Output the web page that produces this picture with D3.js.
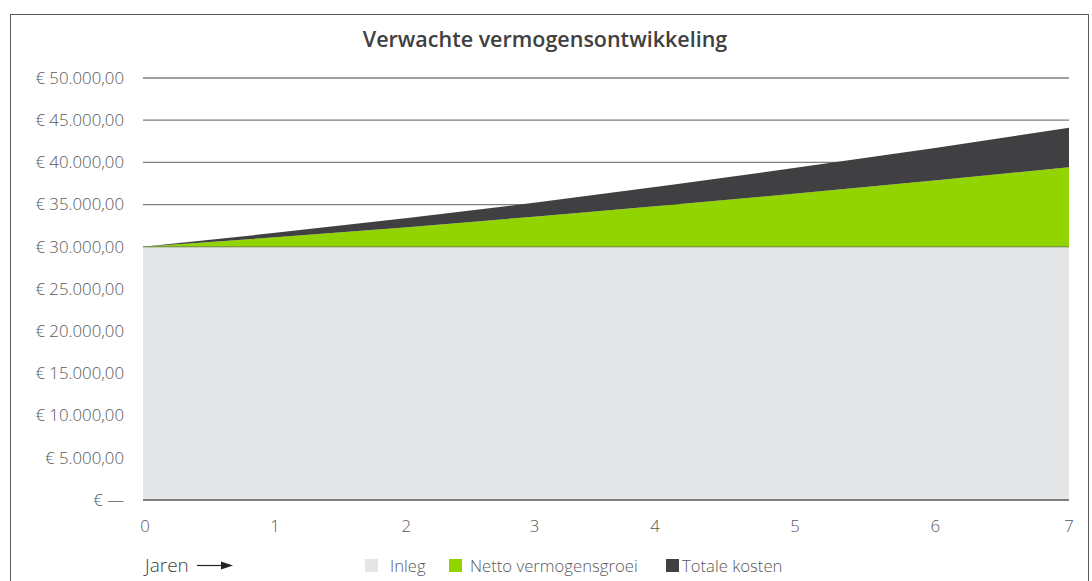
<!DOCTYPE html>
<html><head><meta charset="utf-8">
<script src="https://cdn.jsdelivr.net/npm/d3@7"></script>
<style>
body{margin:0;background:#fff;}
text{font-family:"Open Sans",sans-serif;}
</style></head>
<body><svg id="c" width="1092" height="581"></svg>
<script>
const years = [0, 1, 2, 3, 4, 5, 6, 7];
const inleg = [30000, 30000, 30000, 30000, 30000, 30000, 30000, 30000];
const nettoGroei = [0, 1120, 2330, 3620, 4980, 6400, 7880, 9420];
const totaleKosten = [0, 530, 1070, 1680, 2360, 3100, 3870, 4690];
const seriesNames = ["Inleg", "Netto vermogensgroei", "Totale kosten"];
const seriesColors = ["#e5e6e8", "#92d400", "#404042"];
const yTicks = [0, 5000, 10000, 15000, 20000, 25000, 30000, 35000, 40000, 45000, 50000];
const xTickLabels = ["0", "1", "2", "3", "4", "5", "6", "7"];
const xTickPos = [0.015, 0.998, 1.99, 2.96, 3.87, 4.93, 5.99, 7.0];
const title = "Verwachte vermogensontwikkeling";
const axisTitle = "Jaren";

const svg = d3.select("#c");
const m = {left:143, right:1069, top:78, bottom:500};

svg.append("rect").attr("x",10.5).attr("y",14.5).attr("width",1078).attr("height",600)
  .attr("fill","none").attr("stroke","#595959").attr("stroke-width",1);

svg.append("text").attr("x",545).attr("y",47).attr("text-anchor","middle")
  .attr("font-size",21.5).attr("font-weight",600).attr("fill","#404040").text(title);

const x = d3.scaleLinear().domain([0,7]).range([m.left, m.right]);
const y = d3.scaleLinear().domain([0,50000]).range([m.bottom, m.top]);

svg.append("g").selectAll("line").data(yTicks.filter(d=>d>0)).join("line")
  .attr("x1",m.left).attr("x2",m.right).attr("y1",d=>y(d)).attr("y2",d=>y(d))
  .attr("stroke","#7f7f7f").attr("stroke-width",1.3);

const fmt = v => v === 0 ? "€ —" : "€ " + d3.format(",.2f")(v).replace(/,/g,"#").replace(/\./g,",").replace(/#/g,".");
svg.append("g").selectAll("text").data(yTicks).join("text")
  .attr("x",124).attr("y",d=>y(d)).attr("dy","0.35em").attr("text-anchor","end")
  .attr("font-size",16.8).attr("font-weight",300).attr("fill","#595959").text(fmt);

const table = years.map((yr,i)=>({year:yr, "Inleg":inleg[i], "Netto vermogensgroei":nettoGroei[i], "Totale kosten":totaleKosten[i]}));
const stack = d3.stack().keys(seriesNames)(table);
const area = d3.area().x(d=>x(d.data.year)).y0(d=>y(d[0])).y1(d=>y(d[1]));
svg.append("g").selectAll("path").data(stack).join("path")
  .attr("d",area).attr("fill",(d,i)=>seriesColors[i]);

svg.append("path").datum(stack[0])
  .attr("d", d3.line().x(d=>x(d.data.year)).y(d=>y(d[1])))
  .attr("fill","none").attr("stroke","#6f8a3c").attr("stroke-width",1);

svg.append("line").attr("x1",m.left).attr("x2",m.right).attr("y1",y(0)).attr("y2",y(0))
  .attr("stroke","#595959").attr("stroke-width",1.5);

svg.append("g").selectAll("text").data(xTickLabels).join("text")
  .attr("x",(d,i)=>x(xTickPos[i])).attr("y",532).attr("text-anchor","middle")
  .attr("font-size",16.8).attr("font-weight",300).attr("fill","#595959").text(d=>d);

svg.append("text").attr("x",145).attr("y",572).attr("font-size",19).attr("font-weight",300)
  .attr("fill","#404040").text(axisTitle);
svg.append("line").attr("x1",197).attr("x2",224).attr("y1",565.5).attr("y2",565.5)
  .attr("stroke","#222").attr("stroke-width",1.2);
svg.append("path").attr("d","M221,561.5 L233,565.5 L221,569.5 Z").attr("fill","#222");

const legX = [365, 449, 666];
const legTX = [390, 470, 682];
const lg = svg.append("g");
seriesNames.forEach((n,i)=>{
  lg.append("rect").attr("x",legX[i]).attr("y",559).attr("width",13).attr("height",13).attr("fill",seriesColors[i]);
  lg.append("text").attr("x",legTX[i]).attr("y",571.5).attr("font-size",16.7).attr("font-weight",300)
    .attr("fill","#595959").text(n);
});
</script></body></html>
